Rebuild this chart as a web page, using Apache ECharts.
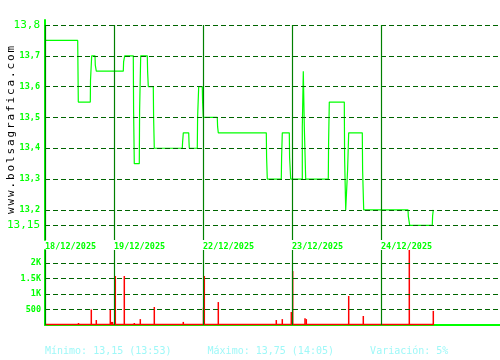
<!DOCTYPE html>
<html><head><meta charset="utf-8">
<script src="https://cdn.jsdelivr.net/npm/echarts@6/dist/echarts.min.js"></script>
<style>html,body{margin:0;padding:0;background:#fff}#c{width:500px;height:360px}</style>
</head><body><div id="c"></div>
<script>
// ---- data ----
const dayStarts = [0, 69, 158, 247, 336];
const dayLabels = ['18/12/2025', '19/12/2025', '22/12/2025', '23/12/2025', '24/12/2025'];
const priceTicks = [13.15, 13.2, 13.3, 13.4, 13.5, 13.6, 13.7, 13.8];
const volumeTicks = [500, 1000, 1500, 2000];
const priceT = [0, 32.7, 33, 33.3, 45.3, 45.5, 46.7, 50, 50.3, 51.3, 78.3, 78.6, 79.7, 88.3, 88.6, 89.3, 94.3, 94.6, 95.7, 102.3, 102.6, 103.3, 108.3, 108.6, 109.3, 137.3, 137.6, 138.3, 143.7, 144, 144.3, 152.3, 152.6, 153.7, 157.3, 157.6, 158.3, 172.3, 172.6, 173.3, 221.3, 221.6, 222.3, 236.3, 236.6, 237.3, 244.3, 244.6, 245.7, 257.3, 257.3, 258.3, 258.3, 259.3, 259.3, 260, 260.7, 283.3, 283.6, 284.3, 299.3, 299.6, 300.7, 302.3, 302.6, 303.7, 317.3, 317.6, 318.7, 363, 363.3, 364.7, 387.3, 387.6, 388.3];
const priceV = [13.75, 13.75, 13.65, 13.55, 13.55, 13.62, 13.7, 13.7, 13.67, 13.65, 13.65, 13.68, 13.7, 13.7, 13.52, 13.35, 13.35, 13.52, 13.7, 13.7, 13.65, 13.6, 13.6, 13.5, 13.4, 13.4, 13.42, 13.45, 13.45, 13.42, 13.4, 13.4, 13.5, 13.6, 13.6, 13.55, 13.5, 13.5, 13.47, 13.45, 13.45, 13.37, 13.3, 13.3, 13.37, 13.45, 13.45, 13.37, 13.3, 13.3, 13.47, 13.47, 13.65, 13.65, 13.47, 13.47, 13.3, 13.3, 13.42, 13.55, 13.55, 13.37, 13.2, 13.2, 13.33, 13.45, 13.45, 13.33, 13.2, 13.2, 13.18, 13.15, 13.15, 13.18, 13.2];
const volumeT = [33.5, 46.3, 51.3, 65.3, 66.5, 67.5, 70.3, 79.3, 89.3, 95.3, 109.3, 138.3, 153.3, 158.5, 159.3, 173.3, 231.3, 237.3, 246.3, 247.7, 260, 261.3, 284.3, 303.7, 318.3, 364.3, 388.3];
const volumeV = [65, 500, 160, 500, 100, 100, 1580, 1580, 65, 190, 580, 100, 30, 560, 1580, 740, 160, 190, 420, 1740, 220, 190, 30, 935, 290, 2420, 455];
const volumeFloorT = [0, 388.3];
const volumeFloorV = [20, 20];
const statsText = 'Mínimo: 13,15 (13:53)      Máximo: 13,75 (14:05)      Variación: 5%';
const siteName = 'www.bolsagrafica.com';

// ---- chart ----
const MONO = 'DejaVu Sans Mono';
const BRIGHT = '#00ff00';
const DARK = '#008000';
const GRIDC = '#006400';
const priceMin = 13.1023, priceMax = 13.8162;
const volMax = 2420;
const xMax = 455;

const pricePts = priceT.map((t, i) => [t, priceV[i]]);
const volPts = volumeT.map((t, i) => [t, volumeV[i]]);
const floorPts = volumeFloorT.map((t, i) => [t, volumeFloorV[i]]);

const chart = echarts.init(document.getElementById('c'), null, {renderer: 'canvas'});
chart.setOption({
  animation: false,
  backgroundColor: '#fff',
  title: {
    text: statsText, left: 45, top: 346, padding: 0,
    textStyle: {fontFamily: MONO, fontSize: 10, fontWeight: 'normal', color: '#9ff8f8'}
  },
  grid: [
    {left: 45, right: 0, top: 20, height: 220, containLabel: false, outerBoundsMode: 'none'},
    {left: 45, right: 0, top: 250, height: 75, containLabel: false, outerBoundsMode: 'none'}
  ],
  xAxis: [
    {
      type: 'value', gridIndex: 0, min: 0, max: xMax,
      axisLine: {show: false}, axisTick: {show: false}, splitLine: {show: false},
      axisLabel: {
        customValues: dayStarts, margin: 2, align: 'left',
        formatter: v => dayLabels[dayStarts.indexOf(v)] || '',
        fontFamily: MONO, fontSize: 8.5, fontWeight: 'bold', color: BRIGHT
      }
    },
    {
      type: 'value', gridIndex: 1, min: 0, max: xMax,
      axisLine: {show: true, lineStyle: {color: BRIGHT, width: 2}},
      axisTick: {show: false}, splitLine: {show: false}, axisLabel: {show: false}
    }
  ],
  yAxis: [
    {
      type: 'value', gridIndex: 0, min: priceMin, max: priceMax,
      name: siteName.split('').map(ch => '{c|' + ch + '}').join(''),
      nameLocation: 'middle', nameRotate: 90, nameGap: 28, nameMoveOverlap: false,
      nameTextStyle: {rich: {c: {width: 8.5, align: 'center', fontFamily: MONO, fontSize: 11, color: '#000'}}},
      axisLine: {show: true, lineStyle: {color: BRIGHT, width: 2}},
      axisTick: {show: false}, splitLine: {show: false},
      axisLabel: {
        customValues: priceTicks, margin: 5,
        formatter: v => {
          const s = String(+v.toFixed(2)).replace('.', ',');
          return (v === priceTicks[0] || v === priceTicks[priceTicks.length - 1]) ? '{big|' + s + '}' : '{sm|' + s + '}';
        },
        rich: {
          big: {fontFamily: MONO, fontSize: 11, color: BRIGHT},
          sm: {fontFamily: MONO, fontSize: 8.5, fontWeight: 'bold', color: BRIGHT}
        }
      }
    },
    {
      type: 'value', gridIndex: 1, min: 0, max: volMax,
      axisLine: {show: true, lineStyle: {color: BRIGHT, width: 2}},
      axisTick: {show: false}, splitLine: {show: false},
      axisLabel: {
        customValues: volumeTicks, margin: 4,
        formatter: v => v >= 1000 ? (v / 1000) + 'K' : String(v),
        fontFamily: MONO, fontSize: 8.5, fontWeight: 'bold', color: BRIGHT
      }
    }
  ],
  series: [
    {
      type: 'line', xAxisIndex: 0, yAxisIndex: 0, data: pricePts,
      showSymbol: false, symbol: 'none', clip: false,
      lineStyle: {color: BRIGHT, width: 1.2},
      markLine: {
        silent: true, symbol: 'none', label: {show: false}, animation: false,
        data: [
          ...priceTicks.map(v => ({yAxis: v, lineStyle: {type: [5, 3], color: GRIDC, width: 1}})),
          ...dayStarts.map(d => [{coord: [d, priceTicks[priceTicks.length - 1]]}, {coord: [d, priceMin]}])
        ],
        lineStyle: {color: DARK, width: 1.2, type: 'solid'}
      },
      z: 3
    },
    {
      type: 'line', xAxisIndex: 1, yAxisIndex: 1, data: floorPts,
      showSymbol: false, symbol: 'none',
      lineStyle: {color: '#ff0000', width: 1.5},
      markLine: {
        silent: true, symbol: 'none', label: {show: false}, animation: false,
        data: [
          ...volumeTicks.map(v => ({yAxis: v, lineStyle: {type: [5, 3], color: GRIDC, width: 1}})),
          ...dayStarts.map(d => [{coord: [d, 0]}, {coord: [d, volMax]}])
        ],
        lineStyle: {color: DARK, width: 1.2, type: 'solid'}
      },
      z: 2
    },
    {
      type: 'bar', xAxisIndex: 1, yAxisIndex: 1, data: volPts,
      barWidth: 1.5, itemStyle: {color: '#ff0000'}, z: 3
    }
  ]
});
</script></body></html>
